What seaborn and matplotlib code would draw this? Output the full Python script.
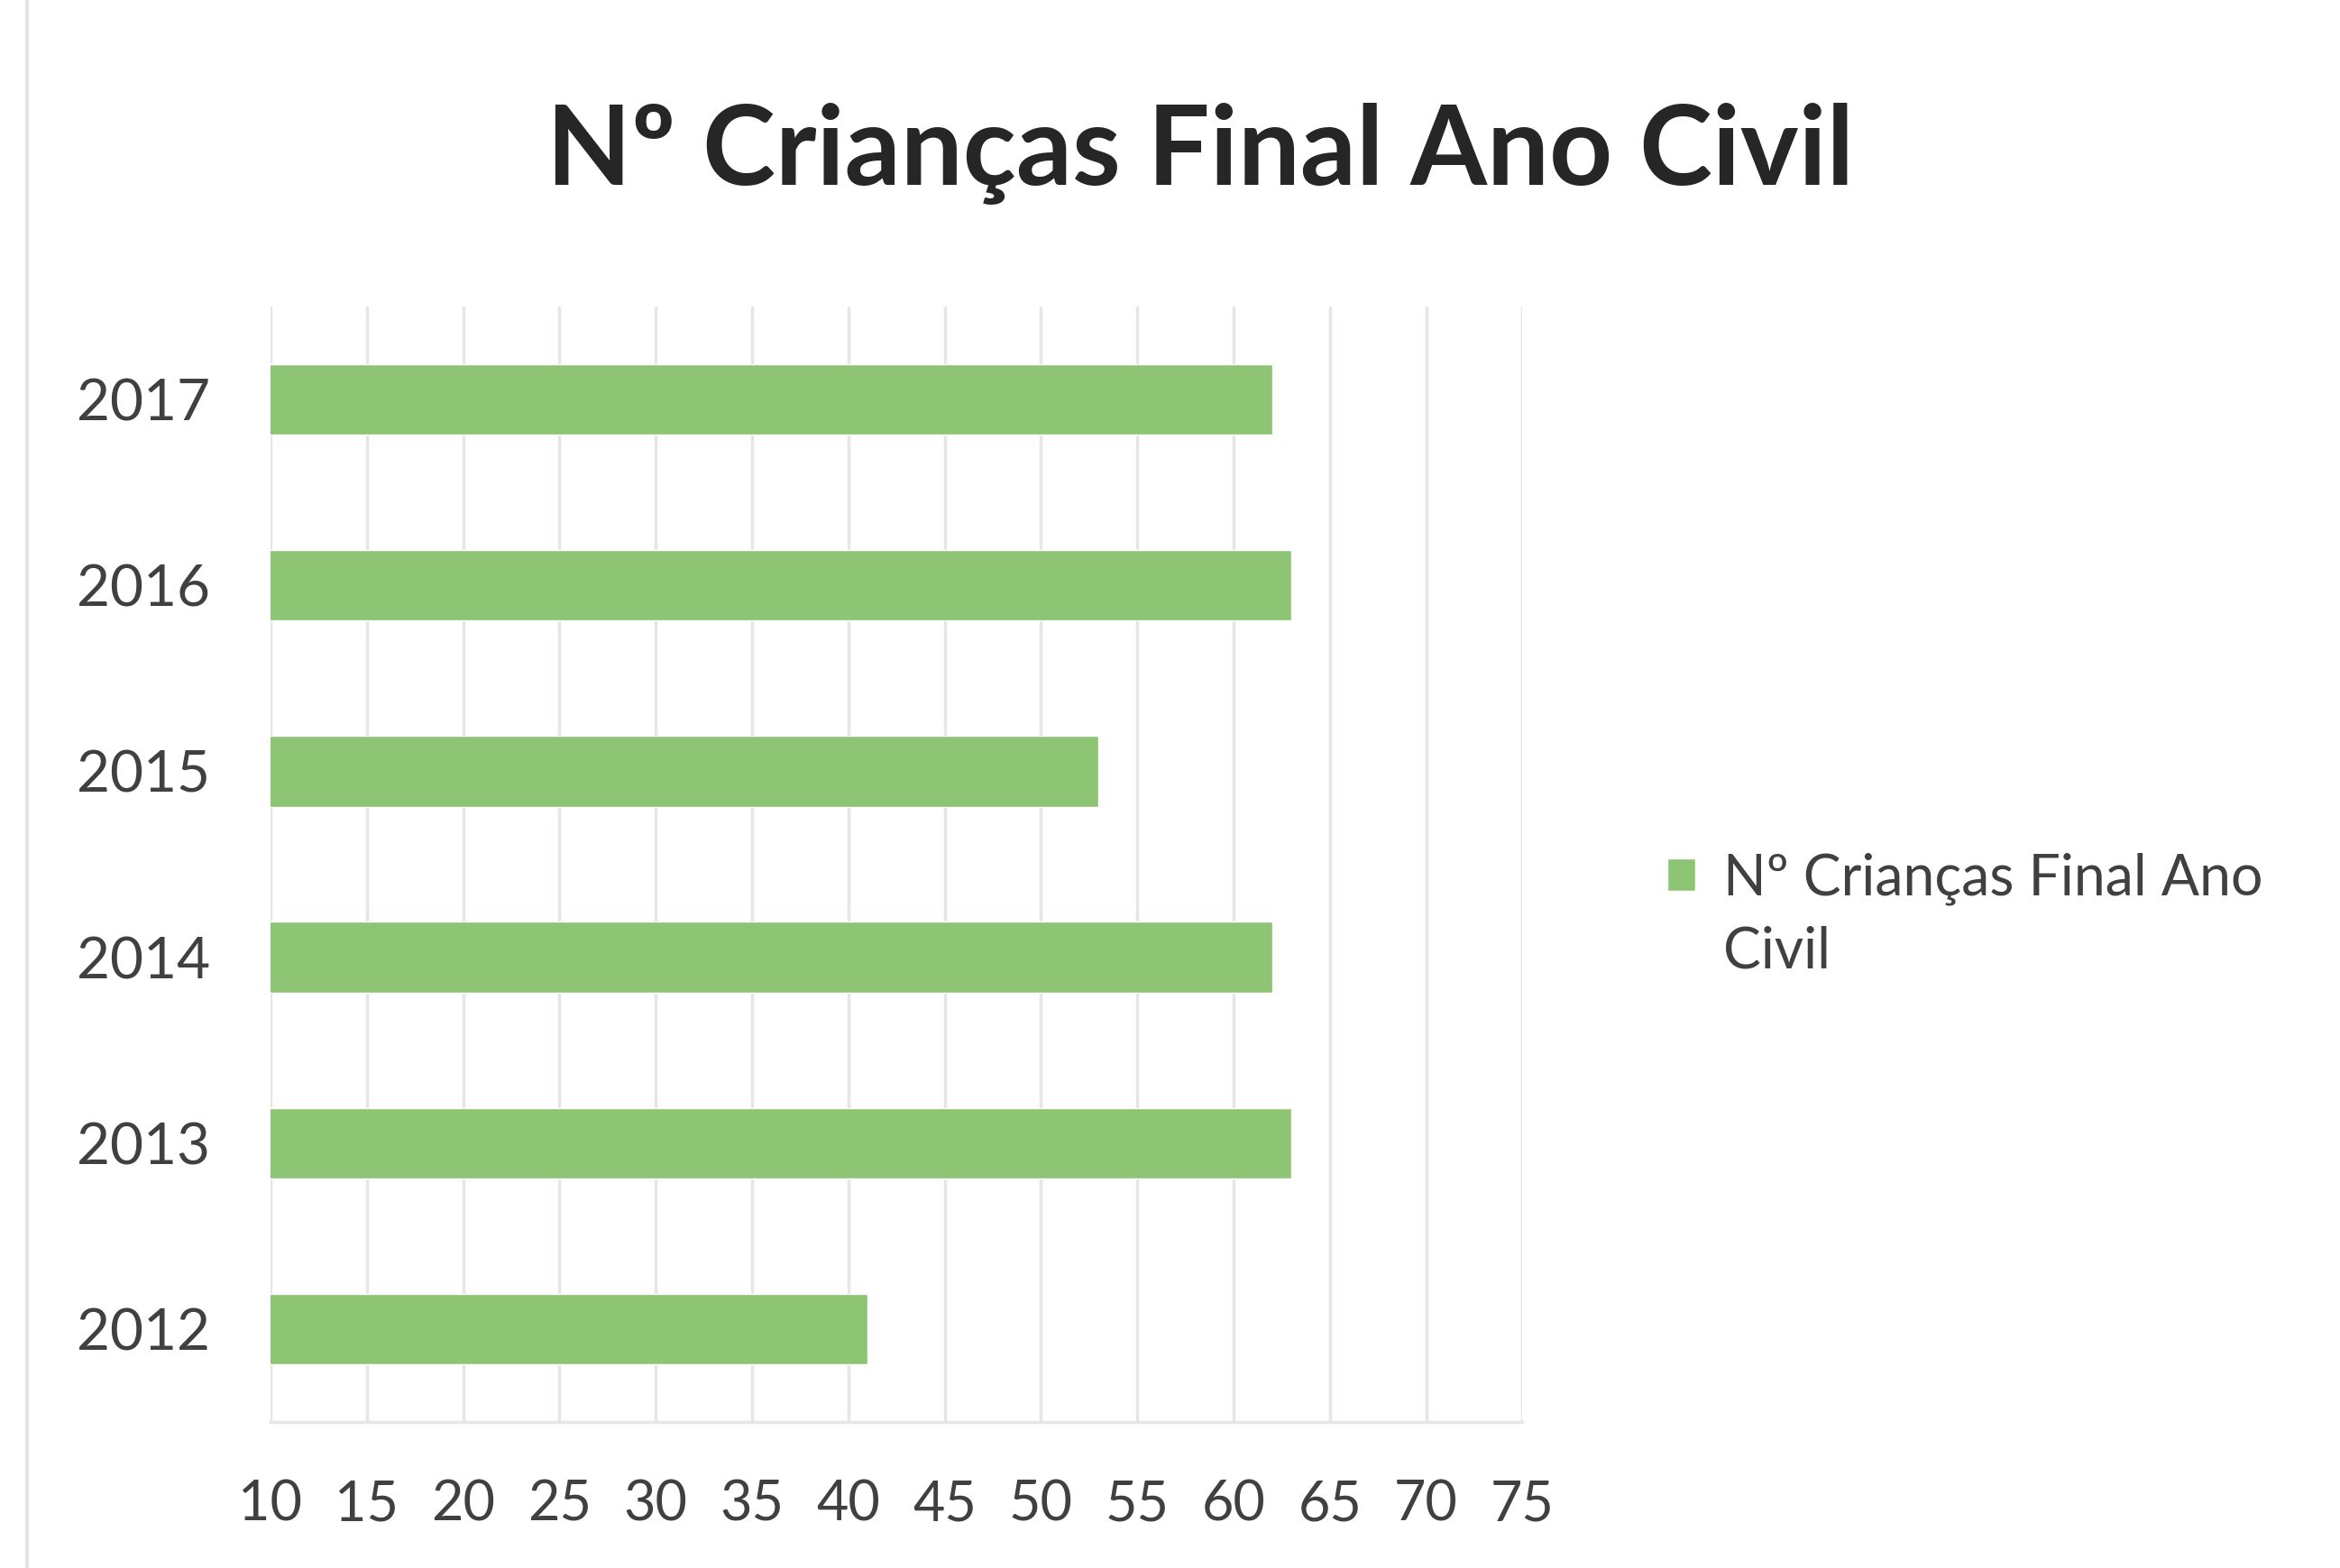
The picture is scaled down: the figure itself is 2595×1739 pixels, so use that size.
import pandas as pd
import seaborn as sns
import matplotlib.pyplot as plt
from matplotlib.lines import Line2D

# chart data
anos = ["2017", "2016", "2015", "2014", "2013", "2012"]
criancas = [62, 63, 53, 62, 63, 41]
x_ticks = [10, 15, 20, 25, 30, 35, 40, 45, 50, 55, 60, 65, 70, 75]
titulo = "Nº Crianças Final Ano Civil"
serie_linha1 = "Nº Crianças Final Ano"
serie_linha2 = "Civil"

bar_color = "#8ec574"
grid_color = "#e8e4e8"
text_color = "#404040"

sns.set_theme(style="white")
plt.rcParams['font.family'] = ['Lato', 'DejaVu Sans']

df = pd.DataFrame({"Ano": anos, "Criancas": criancas})

fig = plt.figure(figsize=(25.95, 17.39), dpi=100)
ax = fig.add_axes([0.1156, 0.0932, 0.535, 0.7113])

sns.barplot(data=df, x="Criancas", y="Ano", order=anos, color=bar_color,
            width=0.38, saturation=1, ax=ax, zorder=3, label=serie_linha1)

ax.set_xlim(10, 75)
ax.set_ylim(5.5, -0.5)
ax.set_xticks(x_ticks)
ax.set_xticklabels([str(t) for t in x_ticks])
ax.set_xlabel("")
ax.set_ylabel("")

# light vertical gridlines, no frame apart from faint axis line
ax.grid(axis="x", color=grid_color, linewidth=2.5, zorder=0)
ax.grid(axis="y", visible=False)
for side in ["top", "right", "left"]:
    ax.spines[side].set_visible(False)
ax.spines["bottom"].set_color(grid_color)
ax.spines["bottom"].set_linewidth(2.5)

ax.tick_params(axis="x", which="major", length=12, width=2.5, color=grid_color,
               direction="inout", pad=40, labelsize=44, labelcolor=text_color)
ax.tick_params(axis="y", length=0, pad=48, labelsize=46, labelcolor=text_color)

fig.text(0.513, 0.902, titulo, ha="center", va="center", fontsize=88,
         fontweight="bold", color="#262626")

# legend: marker beside first line, second line wrapped below
leg = ax.legend(loc="center left", bbox_to_anchor=(1.075, 0.487), frameon=False,
                fontsize=45, handlelength=0.5, handleheight=0.5,
                handletextpad=0.5, labelcolor=text_color)
fig.canvas.draw()
bb = leg.get_texts()[0].get_window_extent().transformed(fig.transFigure.inverted())
fig.text(bb.x0, bb.y0 - 0.030, serie_linha2, ha="left", va="center",
         fontsize=45, color=text_color)

# faint scan border on the left
fig.add_artist(Line2D([0.0115, 0.0115], [0.0, 1.0], color="#e4e4e4",
                      linewidth=3, transform=fig.transFigure))

fig.savefig("out.png", dpi=100, facecolor="white")
